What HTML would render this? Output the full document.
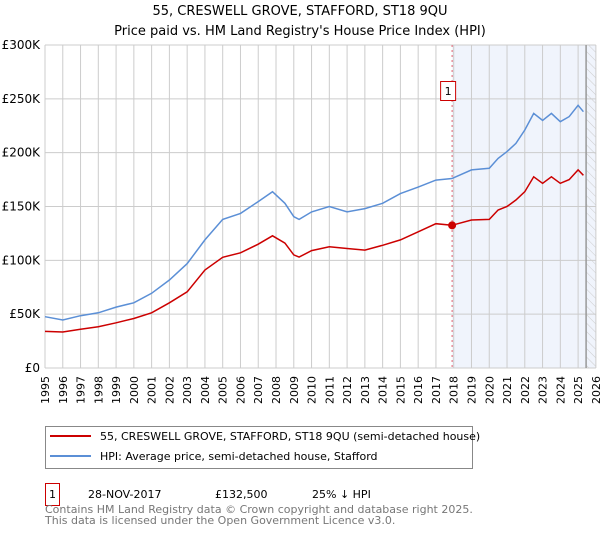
<!DOCTYPE html>
<html><head><meta charset="utf-8"><style>
body{margin:0;background:#fff;font-family:"DejaVu Sans","Liberation Sans",sans-serif}
svg text{font-family:"DejaVu Sans","Liberation Sans",sans-serif}
</style></head><body>
<svg id="c" width="600" height="530" xmlns="http://www.w3.org/2000/svg">
<defs><pattern id="h" width="6" height="6" patternUnits="userSpaceOnUse" patternTransform="rotate(-45)"><line x1="0" y1="0" x2="0" y2="6" stroke="#ccc" stroke-width="1"/></pattern></defs>
<text x="300" y="15" text-anchor="middle" font-size="13">55, CRESWELL GROVE, STAFFORD, ST18 9QU</text>
<text x="300" y="35" text-anchor="middle" font-size="13">Price paid vs. HM Land Registry's House Price Index (HPI)</text>
<g id="plot"></g>
<g>
<rect x="45.5" y="426.5" width="427" height="42" fill="#fff" stroke="#888"/>
<line x1="50" y1="436" x2="91" y2="436" stroke="#cc0000" stroke-width="2"/>
<text x="100" y="440" font-size="11">55, CRESWELL GROVE, STAFFORD, ST18 9QU (semi-detached house)</text>
<line x1="50" y1="456" x2="91" y2="456" stroke="#5b8fd6" stroke-width="2"/>
<text x="100" y="460" font-size="11">HPI: Average price, semi-detached house, Stafford</text>
</g>
<g>
<rect x="45.5" y="483.5" width="14" height="22" fill="#fff" stroke="#cc0000"/>
<text x="52.5" y="498" text-anchor="middle" font-size="11">1</text>
<text x="88" y="498" font-size="11">28-NOV-2017</text>
<text x="215" y="498" font-size="11">£132,500</text>
<text x="312" y="498" font-size="11">25% ↓ HPI</text>
</g>
<text x="45" y="513" font-size="11" fill="#777">Contains HM Land Registry data © Crown copyright and database right 2025.</text>
<text x="45" y="524" font-size="11" fill="#777">This data is licensed under the Open Government Licence v3.0.</text>
</svg>
<script>
const hpiYears=[1995,1996,1997,1998,1999,2000,2001,2002,2003,2004,2005,2006,2007,2007.8,2008.5,2009,2009.3,2010,2011,2012,2013,2014,2015,2016,2017,2017.9,2019,2020,2020.5,2021,2021.5,2022,2022.5,2023,2023.5,2024,2024.5,2025,2025.3];
const hpiValues=[47.6,44.6,48.6,51.3,56.6,60.6,69.4,81.7,97,119,138,143.6,154.5,163.7,153,140.5,138,145,150,145,148,153,162,168,174.5,176,184,185.5,194.7,201,208.6,221,236.5,230,236.5,228.8,233.5,244,238];
const priceValues=[34,33.4,36,38.4,42,46,51.3,60.6,70.8,91,102.8,107,115,122.8,116,105,103,109,112.6,111,109.5,114,119,126.5,134,132.5,137.5,138,146.7,150,156,163.7,177.6,171.5,177.6,171.5,175,184,179];
const yTicks=[0,50,100,150,200,250,300];
const yTickLabels=["£0","£50K","£100K","£150K","£200K","£250K","£300K"];
const xTicks=[];for(let y=1995;y<=2026;y++)xTicks.push(y);
const saleYear=2017.91, saleValue=132.5;
const x=v=>45+(v-1995)*17.77;
const y=v=>368-v*1.0767;
const NS="http://www.w3.org/2000/svg";
const g=document.getElementById('plot');
function mk(t,a,p){const e=document.createElementNS(NS,t);for(const k in a)e.setAttribute(k,a[k]);(p||g).appendChild(e);return e;}
let r=mk('rect',{x:x(saleYear),y:y(300),width:x(2026)-x(saleYear),height:y(0)-y(300),fill:'#f0f4fc'});


r=mk('rect',{x:x(2025.45),y:y(300),width:x(2026)-x(2025.45),height:y(0)-y(300),fill:'url(#h)'});


xTicks.forEach(v=>{
 const l=mk('line',{x1:x(v),x2:x(v),y1:y(300),y2:y(0),stroke:'#ccc'});
 
 
 const t=mk('text',{x:0,y:0,'font-size':11,'text-anchor':'end',transform:`translate(${x(v)+4},376) rotate(-90)`});
 t.textContent=v;
 
 
});
yTicks.forEach((v,i)=>{
 const l=mk('line',{x1:x(1995),x2:x(2026),y1:y(v),y2:y(v),stroke:'#ccc'});
 
 
 const t=mk('text',{x:40,y:y(v)+4,'font-size':12,'text-anchor':'end'});
 t.textContent=yTickLabels[i];
 
 
});
let d=mk('line',{x1:x(2025.45),x2:x(2025.45),y1:y(300),y2:y(0),stroke:'#999','stroke-width':1.5});


d=mk('line',{x1:x(saleYear),x2:x(saleYear),y1:y(300),y2:y(0),stroke:'#e06070','stroke-dasharray':'2,3'});


const pts=a=>a.map((v,i)=>x(hpiYears[i]).toFixed(1)+','+y(v).toFixed(1)).join(' ');
let p=mk('polyline',{points:pts(hpiValues),fill:'none',stroke:'#5b8fd6','stroke-width':1.5});


p=mk('polyline',{points:pts(priceValues),fill:'none',stroke:'#cc0000','stroke-width':1.5});


let c=mk('circle',{cx:x(saleYear),cy:y(saleValue),r:4,fill:'#cc0000'});


let b=mk('rect',{x:x(saleYear)-11.5,y:81.5,width:15,height:19,fill:'#fff',stroke:'#cc0000'});


let bt=mk('text',{x:x(saleYear)-4,y:95,'font-size':11,'text-anchor':'middle'});
bt.textContent='1';


</script>
</body></html>
